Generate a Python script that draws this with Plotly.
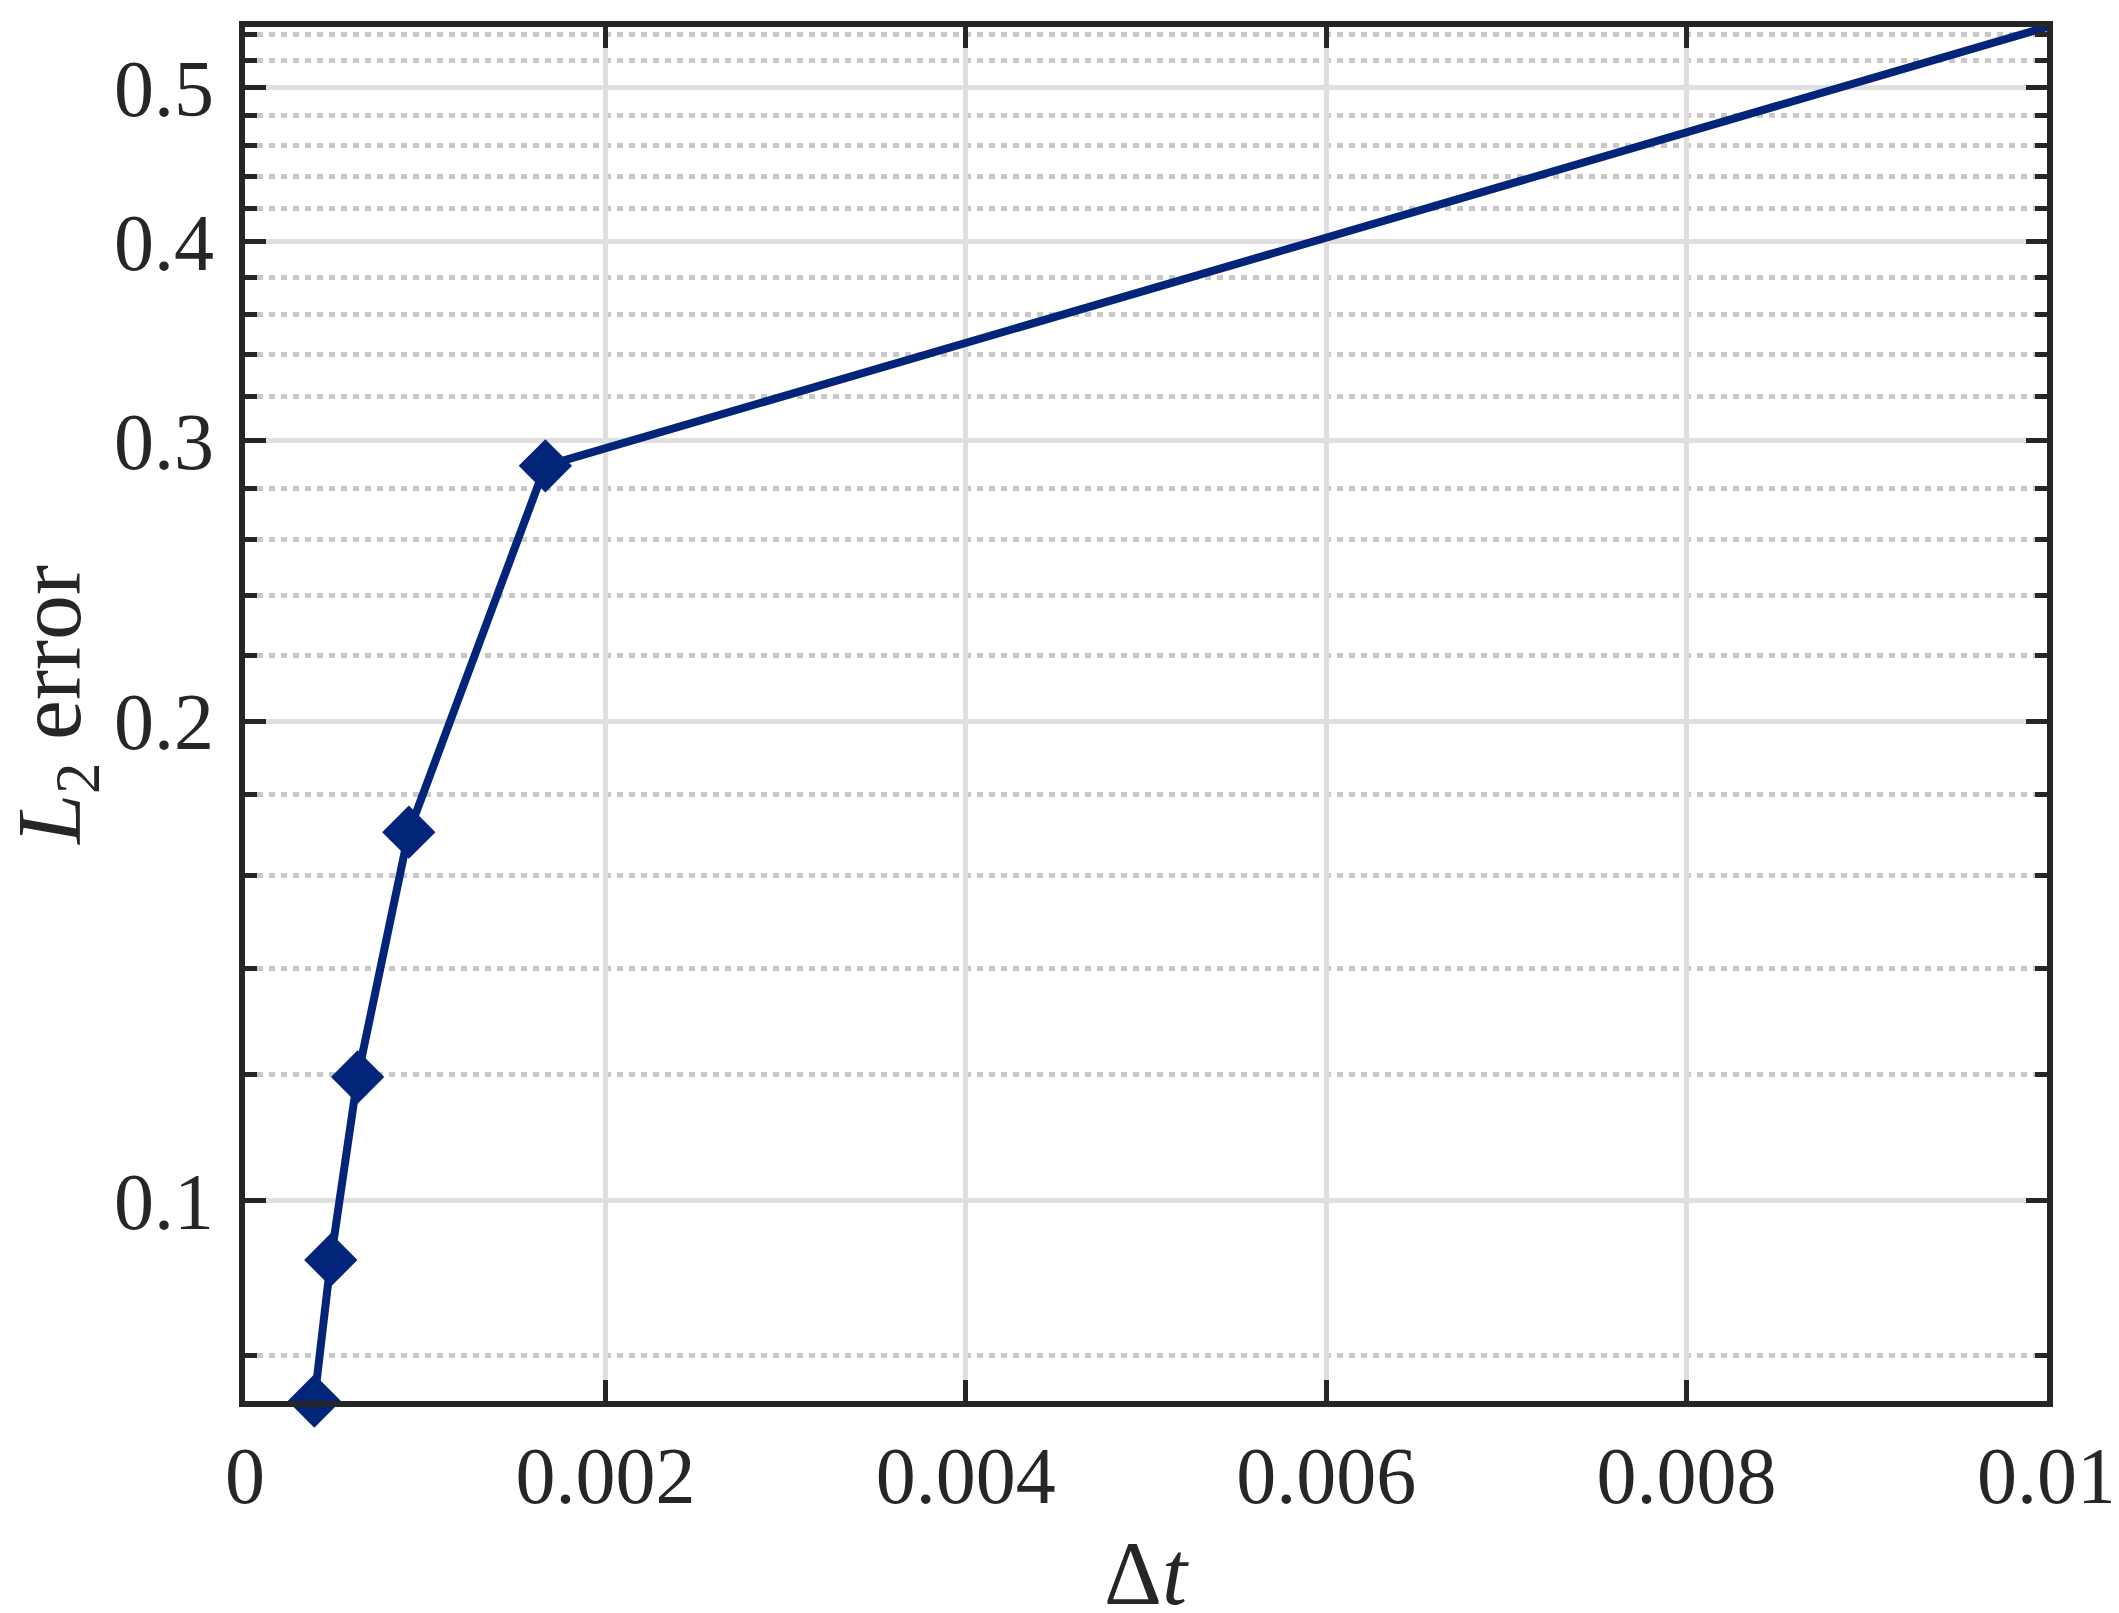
import math
import plotly.graph_objects as go

# ---- data ----
dt = [0.01, 0.0016667, 0.00090909, 0.000625, 0.00047619, 0.00038462]
l2_error = [0.5458, 0.2894, 0.1704, 0.1196, 0.0918, 0.07487]

x_tickvals = [0, 0.002, 0.004, 0.006, 0.008, 0.01]
x_ticktext = ["0", "0.002", "0.004", "0.006", "0.008", "0.01"]
y_tickvals = [0.1, 0.2, 0.3, 0.4, 0.5]
y_ticktext = ["0.1", "0.2", "0.3", "0.4", "0.5"]
y_minor_vals = [0.08, 0.12, 0.14, 0.16, 0.18, 0.22, 0.24, 0.26, 0.28,
                0.32, 0.34, 0.36, 0.38, 0.42, 0.44, 0.46, 0.48, 0.52, 0.54]
x_title = "Δ<i>t</i>"
y_title = "<i>L</i><sub>2</sub> error"

AX = "#262626"
FONT = "Liberation Serif"
LINE = "#032579"

fig = go.Figure()
fig.add_trace(go.Scatter(
    x=dt, y=l2_error, mode="lines+markers",
    line=dict(color=LINE, width=8),
    marker=dict(symbol="diamond", size=41, color=LINE, line=dict(width=0)),
    cliponaxis=False, showlegend=False,
))

fig.update_layout(
    width=2111, height=1605,
    margin=dict(l=237, r=72, t=19, b=212),
    paper_bgcolor="white", plot_bgcolor="white",
    font=dict(family=FONT, color=AX, size=80),
)

fig.update_xaxes(
    range=[0, 0.01], automargin=False,
    tickmode="array", tickvals=x_tickvals, ticktext=x_ticktext,
    ticks="inside", ticklen=21, tickwidth=5, tickcolor=AX,
    showline=True, linewidth=6, linecolor=AX, mirror="ticks",
    showgrid=True, gridcolor="#dfdfdf", gridwidth=5,
    zeroline=False,
    tickfont=dict(family=FONT, size=80, color=AX),
    ticklabelstandoff=0,
)

fig.update_yaxes(
    type="log", automargin=False,
    range=[math.log10(min(l2_error)), math.log10(max(l2_error))],
    tickmode="array", tickvals=y_tickvals, ticktext=y_ticktext,
    ticks="inside", ticklen=21, tickwidth=5, tickcolor=AX,
    showline=True, linewidth=6, linecolor=AX, mirror="ticks",
    showgrid=True, gridcolor="#dfdfdf", gridwidth=5,
    zeroline=False,
    tickfont=dict(family=FONT, size=80, color=AX),
    ticklabelstandoff=9,
    minor=dict(tickmode="array", tickvals=y_minor_vals, ticks="inside",
               ticklen=12, tickwidth=5, tickcolor=AX,
               showgrid=True, gridcolor="#c8c8c8", gridwidth=5, griddash="6px,6px"),
)

fig.add_annotation(
    text=x_title, xref="paper", yref="paper", x=0.5, y=0,
    xanchor="center", yanchor="middle", yshift=-172, showarrow=False,
    font=dict(family=FONT, size=90, color=AX),
)
fig.add_annotation(
    text=y_title, xref="paper", yref="paper", x=0, y=0.5, textangle=-90,
    xanchor="center", yanchor="middle", xshift=-189, yshift=8, showarrow=False,
    font=dict(family=FONT, size=90, color=AX),
)

fig.write_html("out.html")
